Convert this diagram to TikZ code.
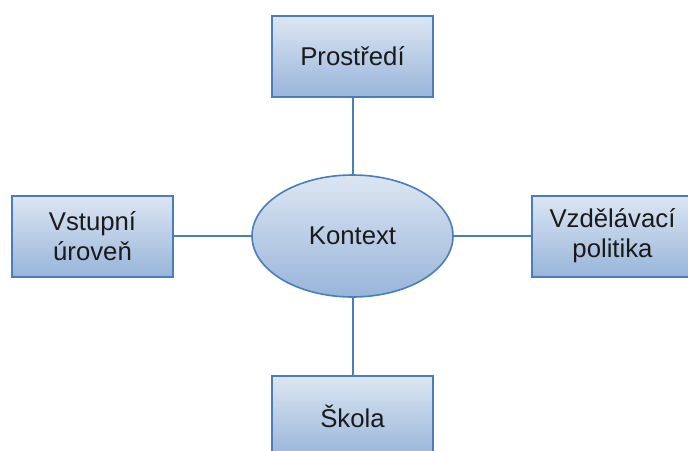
\documentclass[tikz,border=0pt]{standalone}
\usepackage{fontspec}
\setmainfont{Liberation Sans}
\usetikzlibrary{shapes.geometric}
\definecolor{edgeblue}{HTML}{4A7EBB}
\definecolor{filltop}{HTML}{DCE6F2}
\definecolor{fillbot}{HTML}{98B5DA}
\definecolor{txt}{HTML}{1A1A1A}
\tikzset{
  boxnode/.style={rectangle, draw=edgeblue, line width=1.5pt, top color=filltop, bottom color=fillbot,
    minimum width=120.75pt, minimum height=60.75pt, inner sep=0pt, align=center, text=txt,
    font=\fontsize{19.3pt}{22.5pt}\selectfont},
  ellnode/.style={ellipse, draw=edgeblue, line width=1.2pt, top color=filltop, bottom color=fillbot,
    minimum width=150.75pt, minimum height=91.5pt, inner sep=0pt, text=txt,
    font=\fontsize{19.3pt}{22.5pt}\selectfont},
  link/.style={draw=edgeblue, line width=1.5pt}
}
\begin{document}
\begin{tikzpicture}[x=0.75pt,y=-0.75pt]
\useasboundingbox (0,0) rectangle (688,450);
\clip (0,0) rectangle (688,450);
\node[ellnode] (ctx) at (352.5,236) {Kontext};
\node[boxnode] (top) at (352.5,56.5) {Prostředí};
\node[boxnode] (left) at (92.5,236) {Vstupní\\úroveň};
\node[boxnode] (right) at (612.5,236) {Vzdělávací\\politika};
\node[boxnode] (bottom) at (352.5,416.5) {Škola};
\draw[link] (top.south) -- (ctx.north);
\draw[link] (bottom.north) -- (ctx.south);
\draw[link] (left.east) -- (ctx.west);
\draw[link] (right.west) -- (ctx.east);
\end{tikzpicture}
\end{document}
